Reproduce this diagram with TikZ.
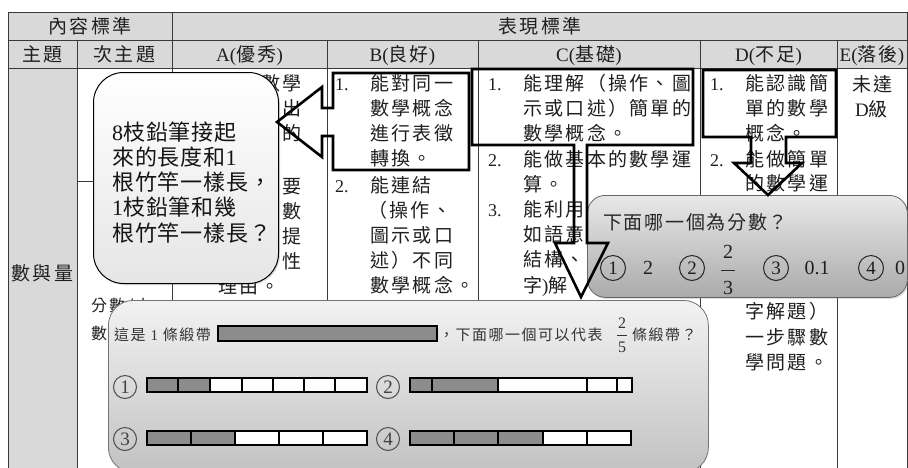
\documentclass[tikz,border=0pt]{standalone}
\usepackage{fontspec}
\setmainfont{Liberation Serif}
\newfontfamily\cjkT[LetterSpace=12]{Noto Sans CJK TC}
\newfontfamily\cjkB[LetterSpace=4]{Noto Sans CJK TC}
\newfontfamily\cjkQ[LetterSpace=9]{Noto Sans CJK TC}
\newfontfamily\cjkS[LetterSpace=10]{Noto Sans CJK TC}
\newfontfamily\latf{Liberation Serif}
\newcommand\lt[1]{{\latf #1}}
\newcommand\ltH[1]{{\latf\fontsize{19}{22}\selectfont #1}}
\usetikzlibrary{shadows}
\definecolor{hdr}{HTML}{D9D9D9}
\definecolor{gridc}{HTML}{3A3A3A}
\definecolor{barg}{HTML}{8C8C8C}
\tikzset{
  gridln/.style={draw=gridc, line width=0.9pt},
  txt/.style={inner sep=0pt, anchor=base west, text=black!88, font=\fontsize{19}{22}\selectfont\cjkT},
  txc/.style={txt, anchor=base},
  txe/.style={txt, anchor=base east},
  txs/.style={txt, font=\fontsize{16}{18}\selectfont\cjkT},
  tnum/.style={inner sep=0pt, anchor=base west, text=black!88, font=\fontsize{18}{20}\selectfont\latf},
  bamb/.style={inner sep=0pt, anchor=base west, text=black!92, font=\fontsize{22}{24}\selectfont\cjkB},
  qtxt/.style={inner sep=0pt, anchor=base west, text=black!85, font=\fontsize{19}{22}\selectfont\cjkQ},
  qdig/.style={inner sep=0pt, text=black!88, font=\fontsize{20}{22}\selectfont\latf},
  qcirc/.style={circle, draw=black!85, line width=1pt, inner sep=0pt, minimum size=25pt, text=black!88, font=\fontsize{19}{20}\selectfont\latf},
  stxt/.style={inner sep=0pt, anchor=base west, text=black!80, font=\fontsize{15}{16}\selectfont\cjkS},
  sdig/.style={inner sep=0pt, text=black!80, font=\fontsize{16}{16}\selectfont\latf},
  scirc/.style={circle, draw=black!70, line width=1pt, inner sep=0pt, minimum size=23pt, text=black!75, font=\fontsize{19}{19}\selectfont\latf},
  seg/.style={draw=black, line width=1.6pt},
  hl/.style={draw=black, line width=2.6pt, line join=miter},
}
\begin{document}
\begin{tikzpicture}[x=1pt,y=-1pt]
\useasboundingbox (0,0) rectangle (908,467);
\clip (0,0) rectangle (908,467);
\fill[white] (0,0) rectangle (908,467);
% ---------- table background and grid
\fill[hdr] (8,12) rectangle (907.5,68);
\fill[hdr] (8,68) rectangle (77,470);
\draw[gridln] (8,12) -- (907.5,12);
\draw[gridln] (8,40) -- (907.5,40);
\draw[gridln] (8,68) -- (907.5,68);
\draw[gridln] (8,12) -- (8,470);
\draw[gridln] (907.5,12) -- (907.5,470);
\draw[gridln] (172,12) -- (172,470);
\foreach \x in {77,327,478,700,837} \draw[gridln] (\x,40) -- (\x,470);
\draw[gridln] (77,181) -- (172,181);
% ---------- headers
\node[txc] (h1) at (90,33) {內容標準};
\node[txc] (h2) at (540,33) {表現標準};
\node[txc] (h3) at (42.5,61) {主題};
\node[txc] (h4) at (124.5,61) {次主題};
\node[txc] (h5) at (249.5,61) {\ltH{A(}優秀\ltH{)}};
\node[txc] (h6) at (402.5,61) {\ltH{B(}良好\ltH{)}};
\node[txc] (h7) at (589,61) {\ltH{C(}基礎\ltH{)}};
\node[txc] (h8) at (768.5,61) {\ltH{D(}不足\ltH{)}};
\node[txc] (h9) at (872,61) {\ltH{E(}落後\ltH{)}};
% ---------- body
\node[txc] (m1) at (42.5,280) {數與量};
\node[txs] (s1) at (91,311) {分數/小};
\node[txs] (s2) at (91,339) {數};
% A column (visible parts)
\node[txe] (a1) at (302,90) {數學};
\node[txe] (a2) at (302,115) {出};
\node[txe] (a3) at (302,140) {的};
\node[txe] (a4) at (302,193) {要};
\node[txe] (a5) at (302,218) {數};
\node[txe] (a6) at (302,243) {提};
\node[txe] (a7) at (302,268) {性};
\node[txt] (a8) at (218,293) {理由。};
% B column
\node[tnum] (bn1) at (335,90) {1.};
\node[txt] (b1) at (370,90) {能對同一};
\node[txt] (b2) at (370,115) {數學概念};
\node[txt] (b3) at (370,140) {進行表徵};
\node[txt] (b4) at (370,165) {轉換。};
\node[tnum] (bn2) at (335,192) {2.};
\node[txt] (b5) at (370,192) {能連結};
\node[txt] (b6) at (368,217) {（操作、};
\node[txt] (b7) at (370,242) {圖示或口};
\node[txt] (b8) at (370,267) {述）不同};
\node[txt] (b9) at (370,292) {數學概念。};
% C column
\node[tnum] (cn1) at (488,90) {1.};
\node[txt] (c1) at (523,90) {能理解（操作、圖};
\node[txt] (c2) at (523,115) {示或口述）簡單的};
\node[txt] (c3) at (523,140) {數學概念。};
\node[tnum] (cn2) at (488,166.5) {2.};
\node[txt] (c4) at (523,166.5) {能做基本的數學運};
\node[txt] (c5) at (523,191.5) {算。};
\node[tnum] (cn3) at (488,216) {3.};
\node[txt] (c6) at (523,216) {能利用};
\node[txt] (c7) at (523,241.5) {如語意};
\node[txt] (c8) at (523,266.5) {結構、};
\node[txt] (c9) at (523,292) {字\ltH{)}解};
% D column
\node[tnum] (dn1) at (710,90.5) {1.};
\node[txt] (d1) at (745,90.5) {能認識簡};
\node[txt] (d2) at (745,115.5) {單的數學};
\node[txt] (d3) at (745,140) {概念。};
\node[tnum] (dn2) at (710,166.5) {2.};
\node[txt] (d4) at (745,166.5) {能做簡單};
\node[txt] (d5) at (745,190.5) {的數學運};
\node[txt] (d6) at (745,318.5) {字解題）};
\node[txt] (d7) at (745,344.5) {一步驟數};
\node[txt] (d8) at (745,369.5) {學問題。};
% E column
\node[txt] (e1) at (852,91.5) {未達};
\node[txt] (e2) at (855,116.5) {\ltH{D}級};
% ---------- callout 1 (bamboo)
\node[anchor=north west, minimum width=185pt, minimum height=211pt, rounded corners=30pt,
      draw=black, line width=1pt, top color=white, bottom color=black!10,
      drop shadow={opacity=0.25, shadow xshift=1.5pt, shadow yshift=-1.5pt}] (q1) at (93,72) {};
\node[bamb] (t1) at (112,140) {\lt{8}枝鉛筆接起};
\node[bamb] (t2) at (112,165) {來的長度和\lt{1}};
\node[bamb] (t3) at (112,190.5) {根竹竿一樣長，};
\node[bamb] (t4) at (112,215.5) {\lt{1}枝鉛筆和幾};
\node[bamb] (t5) at (112,241) {根竹竿一樣長？};
% ---------- callout 2 (which is a fraction)
\node[anchor=north west, minimum width=320pt, minimum height=102pt, rounded corners=18pt,
      draw=black!60, line width=0.8pt, top color=black!9, bottom color=black!33,
      drop shadow={opacity=0.25, shadow xshift=1.5pt, shadow yshift=-1.5pt}] (q2) at (587,195) {};
\node[qtxt] (qq) at (603,229) {下面哪一個為分數？};
\node[qcirc] (o1) at (613,268) {1};
\node[qdig] (o1v) at (648,268) {2};
\node[qcirc] (o2) at (692,268) {2};
\node[qdig] (f1n) at (728,252) {2};
\node[qdig] (f1d) at (728,288) {3};
\draw[black!85, line width=0.8pt] (721,270) -- (735,270);
\node[qcirc] (o3) at (776,268) {3};
\node[qdig] (o3v) at (817,268) {0.1};
\node[qcirc] (o4) at (871,268) {4};
\node[qdig, anchor=west] (o4v) at (895,268) {0};
% ---------- callout 3 (ribbon)
\node[anchor=north west, minimum width=600pt, minimum height=172pt, rounded corners=25pt,
      draw=black!55, line width=0.8pt, top color=black!5, bottom color=black!24] (q3) at (108,300) {};
\node[stxt] (p1) at (114,340.5) {這是 \lt{1} 條緞帶};
\draw[seg, fill=barg] (218,326) rectangle (437,341);
\node[stxt] (p2) at (439,340.5) {，下面哪一個可以代表};
\node[sdig] (f2n) at (622,323) {2};
\node[sdig] (f2d) at (622,347) {5};
\draw[black!80, line width=0.7pt] (617,335) -- (627,335);
\node[stxt] (p3) at (632,340.5) {條緞帶？};
\node[scirc] (r1) at (125,387) {1};
\node[scirc] (r2) at (388,387) {2};
\node[scirc] (r3) at (125,439) {3};
\node[scirc] (r4) at (388,439) {4};
\foreach \a/\b/\c in {147/178/barg,178/210/barg,210/242/white,242/273/white,273/304/white,304/335/white,335/367/white}
  \draw[seg, fill=\c] (\a,378) rectangle (\b,392);
\foreach \a/\b/\c in {410/432/barg,432/498/barg,498/587/white,587/617/white,617/632/white}
  \draw[seg, fill=\c] (\a,378) rectangle (\b,392);
\foreach \a/\b/\c in {147/191/barg,191/235/barg,235/279/white,279/323/white,323/367/white}
  \draw[seg, fill=\c] (\a,431) rectangle (\b,445);
\foreach \a/\b/\c in {410/454/barg,454/498/barg,498/543/barg,543/587/white,587/631/white}
  \draw[seg, fill=\c] (\a,431) rectangle (\b,445);
% ---------- highlight boxes with block arrows
\draw[hl] (333,108) -- (333,73) -- (469,73) -- (469,170) -- (333,170) -- (333,136)
          -- (322,136) -- (322,157) -- (277,122) -- (322,87) -- (322,108) -- cycle;
\draw[hl] (574,145) -- (472,145) -- (472,69) -- (693,69) -- (693,145) -- (587,145)
          -- (587,243) -- (608,243) -- (581,297) -- (555,243) -- (574,243) -- cycle;
\draw[hl] (751,137) -- (703,137) -- (703,70) -- (836,70) -- (836,137) -- (786,137)
          -- (786,163) -- (802,163) -- (768,195) -- (734,163) -- (751,163) -- cycle;
\end{tikzpicture}
\end{document}
